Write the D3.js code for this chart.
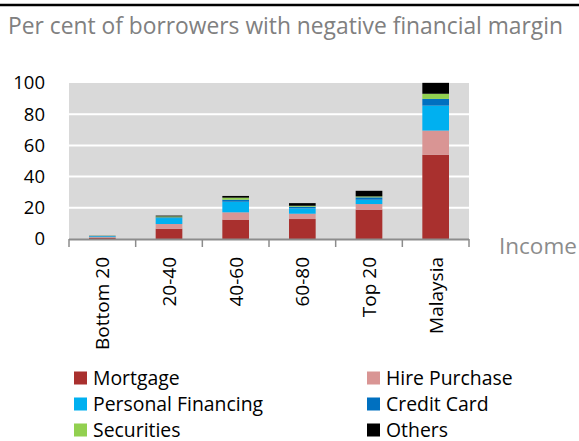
<!DOCTYPE html>
<html>
<head>
<meta charset="utf-8">
<script src="https://cdn.jsdelivr.net/npm/d3@7"></script>
<style>
  html, body { margin: 0; padding: 0; background: #fff; }
  svg { display: block; font-family: "Open Sans", "Noto Sans", sans-serif; }
</style>
</head>
<body>
<svg id="chart" width="579" height="441"></svg>
<script>
// Income groups along the x axis
const categories = ["Bottom 20", "20-40", "40-60", "60-80", "Top 20", "Malaysia"];

// Share of borrowers with a negative financial margin, by loan type (per cent)
const mortgage          = [0.8, 6.6, 12.4, 12.8, 18.8, 54.0];
const hirePurchase      = [0.4, 3.0,  4.7,  3.4,  3.6, 15.5];
const personalFinancing = [0.5, 3.8,  6.8,  3.4,  2.8, 16.0];
const creditCard        = [0.2, 0.5,  1.3,  1.1,  1.5,  4.3];
const securities        = [0.1, 0.6,  1.3,  0.6,  0.6,  3.3];
const others            = [0.1, 0.5,  1.1,  1.7,  3.6,  7.0];

const seriesNames = ["Mortgage", "Hire Purchase", "Personal Financing", "Credit Card", "Securities", "Others"];
const seriesValues = [mortgage, hirePurchase, personalFinancing, creditCard, securities, others];
const seriesColors = ["#A9302E", "#D99594", "#00B0F0", "#0070C0", "#92D050", "#000000"];

const yTicks = [0, 20, 40, 60, 80, 100];

const svg = d3.select("#chart");

const plot = { left: 69, right: 469, top: 83, bottom: 239 };

const x = d3.scaleBand().domain(categories).range([plot.left, plot.right]).paddingInner(0.6).paddingOuter(0.3);
const xTickBand = d3.scaleBand().domain(categories).range([plot.left, plot.right]);
const y = d3.scaleLinear().domain([0, 100]).range([plot.bottom, plot.top]);

// Top rule
svg.append("line")
  .attr("x1", 0).attr("x2", 579).attr("y1", 5).attr("y2", 5)
  .attr("stroke", "#000").attr("stroke-width", 2.5);

// Title
svg.append("text")
  .attr("x", 8).attr("y", 34)
  .attr("fill", "#808080")
  .attr("font-size", 22.8)
  .text("Per cent of borrowers with negative financial margin");

// Plot background
svg.append("rect")
  .attr("x", plot.left).attr("y", plot.top)
  .attr("width", plot.right - plot.left).attr("height", plot.bottom - plot.top)
  .attr("fill", "#D9D9D9");

// Gridlines
svg.append("g").selectAll("line")
  .data(yTicks.filter(d => d > 0 && d < 100))
  .join("line")
  .attr("x1", plot.left).attr("x2", plot.right)
  .attr("y1", d => y(d)).attr("y2", d => y(d))
  .attr("stroke", "#fff").attr("stroke-width", 2);

// Y axis labels
const yAxis = d3.axisLeft(y).tickValues(yTicks).tickSize(0).tickPadding(0);
const yg = svg.append("g").attr("transform", `translate(45,0)`).call(yAxis);
yg.select(".domain").remove();
yg.selectAll("text").attr("font-size", 18.5).attr("fill", "#000").attr("font-family", "\"Open Sans\", sans-serif");

// Stacked bars
const rows = categories.map((c, i) => {
  const r = { category: c };
  seriesNames.forEach((s, j) => { r[s] = seriesValues[j][i]; });
  return r;
});
const stacked = d3.stack().keys(seriesNames)(rows);

svg.append("g").selectAll("g")
  .data(stacked)
  .join("g")
  .attr("fill", (d, i) => seriesColors[i])
  .selectAll("rect")
  .data(d => d)
  .join("rect")
  .attr("x", d => x(d.data.category))
  .attr("width", x.bandwidth())
  .attr("y", d => y(d[1]))
  .attr("height", d => y(d[0]) - y(d[1]));

// X axis
const xAxisG = svg.append("g").attr("transform", `translate(0,${plot.bottom})`);
xAxisG.append("line")
  .attr("x1", plot.left).attr("x2", plot.right)
  .attr("y1", 0.5).attr("y2", 0.5)
  .attr("stroke", "#8C8C8C").attr("stroke-width", 2);
const tickXs = categories.map(c => xTickBand(c)).concat([plot.right]);
xAxisG.selectAll("line.tick")
  .data(tickXs)
  .join("line")
  .attr("class", "tick")
  .attr("x1", d => d).attr("x2", d => d)
  .attr("y1", 0).attr("y2", 8)
  .attr("stroke", "#8C8C8C").attr("stroke-width", 1.5);

xAxisG.selectAll("text")
  .data(categories)
  .join("text")
  .attr("transform", d => `translate(${xTickBand(d) + xTickBand.bandwidth() / 2 + 7},18) rotate(-90)`)
  .attr("text-anchor", "end")
  .attr("font-size", 19)
  .attr("fill", "#000")
  .text(d => d);

// Axis title
svg.append("text")
  .attr("x", 499).attr("y", 254)
  .attr("fill", "#8C8C8C")
  .attr("font-size", 22.5)
  .text("Income");

// Legend
const legend = svg.append("g");
const legendItems = legend.selectAll("g")
  .data(seriesNames)
  .join("g")
  .attr("transform", (d, i) => `translate(${i % 2 === 0 ? 74 : 367},${378 + Math.floor(i / 2) * 26})`);
legendItems.append("rect")
  .attr("x", 0).attr("y", -6.5).attr("width", 13).attr("height", 13)
  .attr("fill", (d, i) => seriesColors[i]);
legendItems.append("text")
  .attr("x", 19).attr("y", 6.5)
  .attr("font-size", 19.4)
  .attr("fill", "#000")
  .text(d => d);
</script>
</body>
</html>
